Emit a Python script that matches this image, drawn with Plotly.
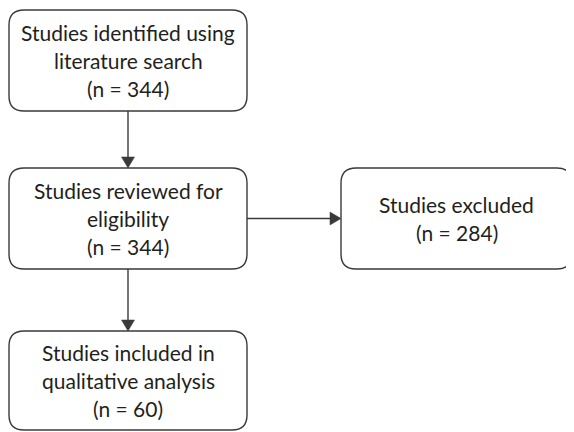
import plotly.graph_objects as go

# ---- data ----
stage_lines = [
    ["Studies identified using", "literature search"],
    ["Studies reviewed for", "eligibility"],
    ["Studies excluded"],
    ["Studies included in", "qualitative analysis"],
]
stage_counts = [344, 344, 284, 60]

# ---- layout (pixel-like coordinates of the page, y downward) ----
W, H = 574, 432
OFF = 8  # page body margin
boxes = [  # x0, y0, x1, y1
    (9, 10, 247, 111),
    (9, 168, 247, 269),
    (341, 168, 572, 269),
    (9, 331, 247, 430),
]
radius = 15
line_color = "#3a3a3a"
line_w = 1.4
text_color = "#231f20"
font_family = "Lato"
font_size = 21
line_gap = 28

def rounded_rect(x0, y0, x1, y1, r):
    return (f"M {x0+r},{y0} L {x1-r},{y0} Q {x1},{y0} {x1},{y0+r} "
            f"L {x1},{y1-r} Q {x1},{y1} {x1-r},{y1} L {x0+r},{y1} "
            f"Q {x0},{y1} {x0},{y1-r} L {x0},{y0+r} Q {x0},{y0} {x0+r},{y0} Z")

shapes = []
annotations = []
for (x0, y0, x1, y1), lines, n in zip(boxes, stage_lines, stage_counts):
    shapes.append(dict(type="path", path=rounded_rect(x0, y0, x1, y1, radius),
                       line=dict(color=line_color, width=line_w),
                       fillcolor="white", layer="below"))
    all_lines = lines + [f"(n = {n})"]
    cx = (x0 + x1) / 2
    cy = (y0 + y1) / 2
    k = len(all_lines)
    for i, t in enumerate(all_lines):
        y = cy + (i - (k - 1) / 2) * line_gap
        annotations.append(dict(x=cx, y=y, xref="x", yref="y", text=t,
                                showarrow=False, xanchor="center", yanchor="middle",
                                font=dict(family=font_family, size=font_size, color=text_color)))

head_len, head_half = 11, 6.5
def vertical_arrow(b_from, b_to):
    x = (boxes[b_from][0] + boxes[b_from][2]) / 2
    y0, y1 = boxes[b_from][3], boxes[b_to][1]
    shapes.append(dict(type="line", x0=x, y0=y0, x1=x, y1=y1 - head_len,
                       line=dict(color=line_color, width=line_w)))
    shapes.append(dict(type="path",
                       path=f"M {x-head_half},{y1-head_len} L {x+head_half},{y1-head_len} L {x},{y1} Z",
                       fillcolor=line_color, line=dict(color=line_color, width=0.5)))

def horizontal_arrow(b_from, b_to):
    y = (boxes[b_from][1] + boxes[b_from][3]) / 2
    x0, x1 = boxes[b_from][2], boxes[b_to][0]
    shapes.append(dict(type="line", x0=x0, y0=y, x1=x1 - head_len, y1=y,
                       line=dict(color=line_color, width=line_w)))
    shapes.append(dict(type="path",
                       path=f"M {x1-head_len},{y-head_half} L {x1-head_len},{y+head_half} L {x1},{y} Z",
                       fillcolor=line_color, line=dict(color=line_color, width=0.5)))

vertical_arrow(0, 1)
horizontal_arrow(1, 2)
vertical_arrow(1, 3)

fig = go.Figure()
fig.update_layout(
    width=W - OFF, height=H - OFF,
    margin=dict(l=0, r=0, t=0, b=0),
    paper_bgcolor="white", plot_bgcolor="white",
    xaxis=dict(range=[OFF, W], visible=False, fixedrange=True),
    yaxis=dict(range=[H, OFF], visible=False, fixedrange=True),
    shapes=shapes, annotations=annotations, showlegend=False,
)
fig.write_html("out.html")
